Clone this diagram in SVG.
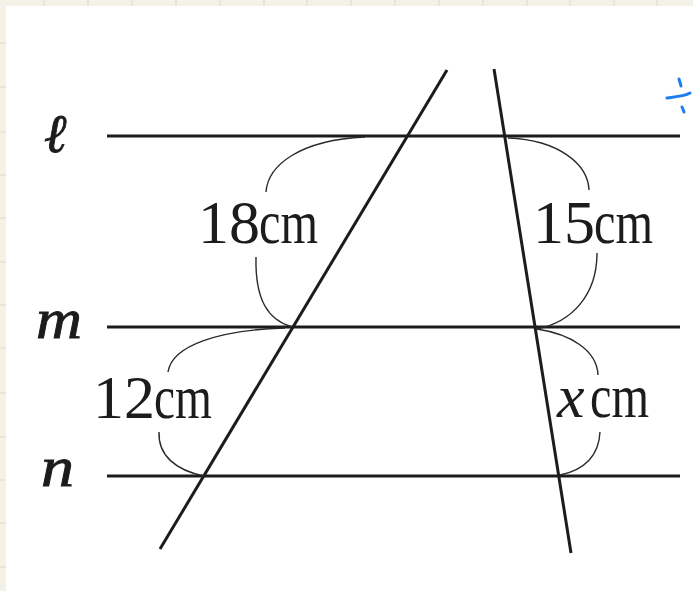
<svg xmlns="http://www.w3.org/2000/svg" width="693" height="591" viewBox="0 0 693 591">
<defs>
<style>
.line{stroke:#1c1c1c;stroke-width:3;stroke-linecap:butt;fill:none}
.brace{stroke:#2a2a2a;stroke-width:1.4;fill:none}
.lbl{font-family:"Liberation Serif","Times New Roman",serif;font-size:62px;fill:#1c1c1c}
.var{font-family:"Liberation Serif","Times New Roman",serif;font-style:italic;fill:#1c1c1c;stroke:#1c1c1c;stroke-width:0.9}
.grid{stroke:#dedac6;stroke-width:1}
.blue{stroke:#1e7ef0;stroke-width:3;stroke-linecap:round;fill:none}
</style>
</defs>
<g id="background">
<rect x="0" y="0" width="693" height="591" fill="#f4f2e7"/>
<g class="grid">
<line x1="44" y1="0" x2="44" y2="6"/><line x1="88" y1="0" x2="88" y2="6"/><line x1="132" y1="0" x2="132" y2="6"/><line x1="176" y1="0" x2="176" y2="6"/><line x1="220" y1="0" x2="220" y2="6"/><line x1="264" y1="0" x2="264" y2="6"/><line x1="307" y1="0" x2="307" y2="6"/><line x1="351" y1="0" x2="351" y2="6"/><line x1="395" y1="0" x2="395" y2="6"/><line x1="439" y1="0" x2="439" y2="6"/><line x1="483" y1="0" x2="483" y2="6"/><line x1="527" y1="0" x2="527" y2="6"/><line x1="570" y1="0" x2="570" y2="6"/><line x1="614" y1="0" x2="614" y2="6"/><line x1="657" y1="0" x2="657" y2="6"/>
<line x1="0" y1="43" x2="6" y2="43"/><line x1="0" y1="87" x2="6" y2="87"/><line x1="0" y1="132" x2="6" y2="132"/><line x1="0" y1="175" x2="6" y2="175"/><line x1="0" y1="218" x2="6" y2="218"/><line x1="0" y1="262" x2="6" y2="262"/><line x1="0" y1="305" x2="6" y2="305"/><line x1="0" y1="348" x2="6" y2="348"/><line x1="0" y1="393" x2="6" y2="393"/><line x1="0" y1="437" x2="6" y2="437"/><line x1="0" y1="480" x2="6" y2="480"/><line x1="0" y1="523" x2="6" y2="523"/><line x1="0" y1="567" x2="6" y2="567"/>
</g>
<rect x="6" y="6" width="687" height="585" fill="#ffffff"/>
</g>
<g id="connectors">
<line id="line-l" class="line" x1="107" y1="136" x2="680" y2="136"/>
<line id="line-m" class="line" x1="107" y1="327" x2="680" y2="327"/>
<line id="line-n" class="line" x1="107" y1="476" x2="680" y2="476"/>
<line id="transversal-1" class="line" x1="447" y1="70" x2="160" y2="549"/>
<line id="transversal-2" class="line" x1="494" y1="69" x2="571" y2="553"/>
<path class="brace" d="M365,137 C300,140 268,165 266,192"/>
<path class="brace" d="M256,257 C255,300 268,320 292,327"/>
<path class="brace" d="M285,328 C220,330 172,345 168,372"/>
<path class="brace" d="M159,432 C158,455 175,470 204,476"/>
<path class="brace" d="M508,138 C560,140 588,165 589,190"/>
<path class="brace" d="M597,253 C597,295 572,322 537,329"/>
<path class="brace" d="M537,329 C570,334 597,350 598,375"/>
<path class="brace" d="M600,432 C599,455 585,470 560,475"/>
</g>
<g id="label-l"><text class="var" x="44" y="152" font-size="54">ℓ</text></g>
<g id="label-m"><text class="var" x="36" y="338" font-size="56" textLength="46" lengthAdjust="spacingAndGlyphs">m</text></g>
<g id="label-n"><text class="var" x="41" y="486" font-size="56" textLength="33" lengthAdjust="spacingAndGlyphs">n</text></g>
<g id="label-18"><text class="lbl" x="198" y="243">18<tspan x="259" textLength="59" lengthAdjust="spacingAndGlyphs">cm</tspan></text></g>
<g id="label-15"><text class="lbl" x="533" y="243">15<tspan x="594" textLength="59" lengthAdjust="spacingAndGlyphs">cm</tspan></text></g>
<g id="label-12"><text class="lbl" x="93" y="418">12<tspan x="154" textLength="58" lengthAdjust="spacingAndGlyphs">cm</tspan></text></g>
<g id="label-x"><text class="lbl" x="557" y="417"><tspan font-style="italic">x</tspan><tspan x="590" textLength="59" lengthAdjust="spacingAndGlyphs">cm</tspan></text></g>
<g id="blue-mark">
<path class="blue" d="M679,79 L681,86"/>
<path class="blue" d="M667,98 C675,97 685,96 690,93"/>
<path class="blue" d="M682,107 L684,112"/>
</g>
</svg>
